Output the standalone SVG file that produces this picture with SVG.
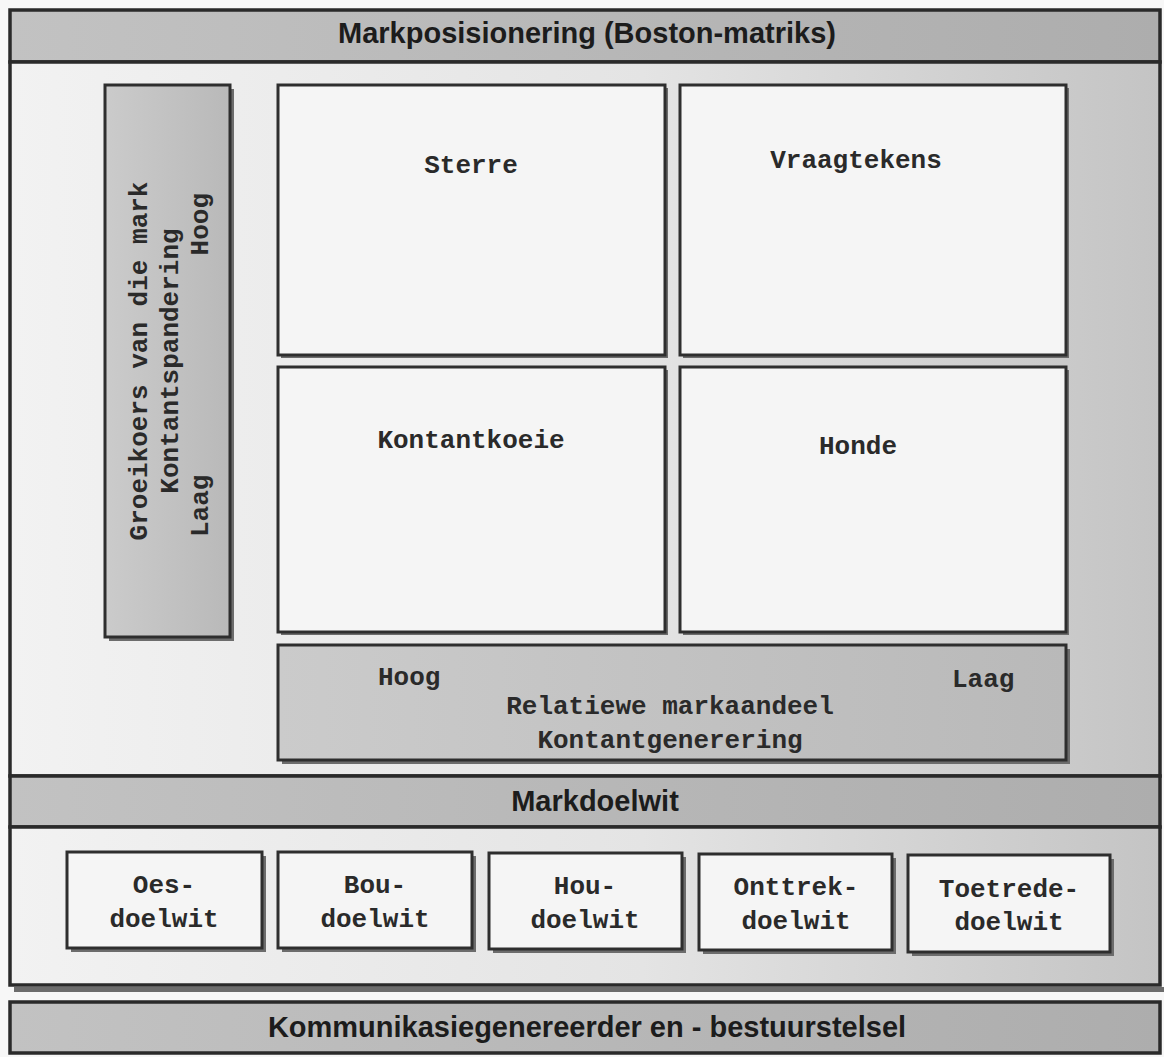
<svg xmlns="http://www.w3.org/2000/svg" width="1164" height="1057" viewBox="0 0 1164 1057">
  <defs>
    <!-- panel background: light on the left, darker grey towards the right -->
    <linearGradient id="panelFill" x1="0" y1="0" x2="1" y2="0">
      <stop offset="0" stop-color="#f2f2f2"/>
      <stop offset="0.55" stop-color="#e4e4e4"/>
      <stop offset="1" stop-color="#c4c4c4"/>
    </linearGradient>
    <linearGradient id="barFill" x1="0" y1="0" x2="1" y2="0">
      <stop offset="0" stop-color="#c2c2c2"/>
      <stop offset="1" stop-color="#adadad"/>
    </linearGradient>
    <linearGradient id="boxFill" x1="0" y1="0" x2="1" y2="0">
      <stop offset="0" stop-color="#cbcbcb"/>
      <stop offset="1" stop-color="#b9b9b9"/>
    </linearGradient>
  </defs>
  <style>
    .frame{stroke:#2a2a2a;stroke-width:3.5}
    .bar{fill:url(#barFill)}
    .panel{fill:url(#panelFill)}
    .shadow{fill:#6c6c6c}
    .cell{fill:#f5f5f5;stroke:#2e2e2e;stroke-width:3}
    .grey{fill:url(#boxFill);stroke:#2e2e2e;stroke-width:3}
    .head{font-family:"Liberation Sans",Arial,sans-serif;font-weight:bold;font-size:29px;fill:#1c1c1c;text-anchor:middle}
    .mono{font-family:"Liberation Mono","Courier New",monospace;font-weight:bold;font-size:26px;fill:#2a2a2a;text-anchor:middle}
    .start{text-anchor:start}
    .end{text-anchor:end}
  </style>

  <rect x="0" y="0" width="1164" height="1057" fill="#f7f7f7"/>

  <!-- section bars and panels -->
  <g id="header-positioning">
    <rect class="bar frame" x="10" y="10" width="1150" height="52"/>
    <text class="head" x="587" y="43">Markposisionering (Boston-matriks)</text>
  </g>
  <g id="panel-matrix">
    <rect class="panel frame" x="10" y="62" width="1150" height="714"/>
  </g>

  <g id="axis-growth">
    <rect class="shadow" x="109" y="89" width="125" height="552"/>
    <rect class="grey" x="105" y="85" width="125" height="552"/>
    <text class="mono" transform="translate(147,361) rotate(-90)">Groeikoers van die mark</text>
    <text class="mono" transform="translate(178,361) rotate(-90)">Kontantspandering</text>
    <text class="mono start" transform="translate(208,537) rotate(-90)">Laag</text>
    <text class="mono end" transform="translate(208,193) rotate(-90)">Hoog</text>
  </g>

  <g id="cell-sterre">
    <rect class="shadow" x="281" y="88" width="387" height="270"/>
    <rect class="cell" x="278" y="85" width="387" height="270"/>
    <text class="mono" x="471" y="173">Sterre</text>
  </g>
  <g id="cell-vraagtekens">
    <rect class="shadow" x="683" y="88" width="386" height="270"/>
    <rect class="cell" x="680" y="85" width="386" height="270"/>
    <text class="mono" x="856" y="168">Vraagtekens</text>
  </g>
  <g id="cell-kontantkoeie">
    <rect class="shadow" x="281" y="370" width="387" height="265"/>
    <rect class="cell" x="278" y="367" width="387" height="265"/>
    <text class="mono" x="471" y="448">Kontantkoeie</text>
  </g>
  <g id="cell-honde">
    <rect class="shadow" x="683" y="370" width="386" height="265"/>
    <rect class="cell" x="680" y="367" width="386" height="265"/>
    <text class="mono" x="858" y="454">Honde</text>
  </g>

  <g id="axis-share">
    <rect class="shadow" x="282" y="649" width="788" height="115"/>
    <rect class="grey" x="278" y="645" width="788" height="115"/>
    <text class="mono start" x="378" y="685">Hoog</text>
    <text class="mono start" x="952" y="687">Laag</text>
    <text class="mono" x="670" y="714">Relatiewe markaandeel</text>
    <text class="mono" x="670" y="748">Kontantgenerering</text>
  </g>

  <g id="header-objectives">
    <rect class="bar frame" x="10" y="776" width="1150" height="51"/>
    <text class="head" x="595" y="811">Markdoelwit</text>
  </g>
  <g id="panel-objectives">
    <rect class="shadow" x="14" y="987" width="1150" height="5"/>
    <rect class="panel frame" x="10" y="827" width="1150" height="158"/>
  </g>

  <g id="goal-oes">
    <rect class="shadow" x="71" y="856" width="195" height="96"/>
    <rect class="cell" x="67" y="852" width="195" height="96"/>
    <text class="mono" x="164" y="893">Oes-</text>
    <text class="mono" x="164" y="927">doelwit</text>
  </g>
  <g id="goal-bou">
    <rect class="shadow" x="282" y="856" width="194" height="96"/>
    <rect class="cell" x="278" y="852" width="194" height="96"/>
    <text class="mono" x="375" y="893">Bou-</text>
    <text class="mono" x="375" y="927">doelwit</text>
  </g>
  <g id="goal-hou">
    <rect class="shadow" x="493" y="857" width="193" height="96"/>
    <rect class="cell" x="489" y="853" width="193" height="96"/>
    <text class="mono" x="585" y="894">Hou-</text>
    <text class="mono" x="585" y="928">doelwit</text>
  </g>
  <g id="goal-onttrek">
    <rect class="shadow" x="703" y="858" width="193" height="96"/>
    <rect class="cell" x="699" y="854" width="193" height="96"/>
    <text class="mono" x="796" y="895">Onttrek-</text>
    <text class="mono" x="796" y="929">doelwit</text>
  </g>
  <g id="goal-toetrede">
    <rect class="shadow" x="912" y="859" width="202" height="97"/>
    <rect class="cell" x="908" y="855" width="202" height="97"/>
    <text class="mono" x="1009" y="897">Toetrede-</text>
    <text class="mono" x="1009" y="930">doelwit</text>
  </g>

  <g id="footer-system">
    <rect class="bar frame" x="10" y="1002" width="1150" height="51"/>
    <text class="head" x="587" y="1037">Kommunikasiegenereerder en - bestuurstelsel</text>
  </g>
</svg>
